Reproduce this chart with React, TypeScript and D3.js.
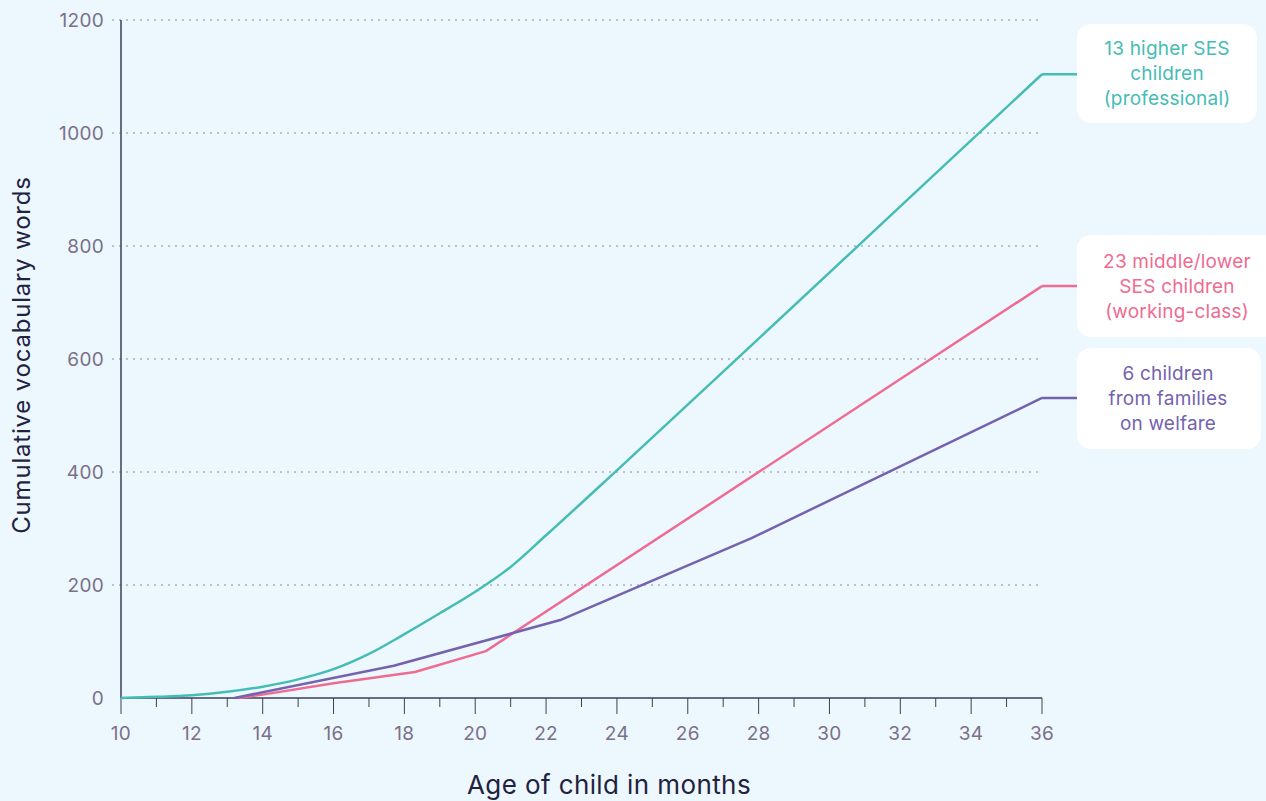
import React from "react";
import * as d3 from "d3";

const W = 1266;
const H = 801;

// Age (months) ticks and vocabulary ticks
const xTicks = [10, 12, 14, 16, 18, 20, 22, 24, 26, 28, 30, 32, 34, 36];
const xMinorTicks = [11, 13, 15, 17, 19, 21, 23, 25, 27, 29, 31, 33, 35];
const yTicks = [0, 200, 400, 600, 800, 1000, 1200];

// Cumulative vocabulary by age, one array per group
const higherAges = [10, 11, 12, 13, 14, 15, 16, 17, 18, 19, 20, 21, 22, 24, 28, 32, 36];
const higherWords = [0, 2, 5, 11, 20, 33, 51, 78, 113, 150, 188, 232, 288, 403, 636, 870, 1104];

const middleAges = [13.3, 14, 16, 18.3, 20.3, 36];
const middleWords = [0, 6, 26, 46, 83, 729];

const welfareAges = [13.2, 17.7, 22.4, 27.8, 36];
const welfareWords = [0, 57, 138, 283, 531];

const seriesColors = ["#45BDB4", "#EE6C91", "#7462AE"];
const seriesLabels = [
  ["13 higher SES", "children", "(professional)"],
  ["23 middle/lower", "SES children", "(working-class)"],
  ["6 children", "from families", "on welfare"],
];

const FONT = "Inter, 'Noto Sans', sans-serif";

export default function App() {
  const x = d3.scaleLinear().domain([10, 36]).range([121, 1042]);
  const y = d3.scaleLinear().domain([0, 1200]).range([698, 20]);

  const line = d3
    .line<[number, number]>()
    .x((d) => x(d[0]))
    .y((d) => y(d[1]));

  const smooth = d3
    .line<[number, number]>()
    .x((d) => x(d[0]))
    .y((d) => y(d[1]))
    .curve(d3.curveMonotoneX);

  const series = [
    { pts: higherAges.map((a, i) => [a, higherWords[i]] as [number, number]), gen: smooth },
    { pts: middleAges.map((a, i) => [a, middleWords[i]] as [number, number]), gen: line },
    { pts: welfareAges.map((a, i) => [a, welfareWords[i]] as [number, number]), gen: line },
  ];

  // Label boxes: left edge, top, width, height
  const boxes = [
    { x0: 1077, y0: 24, w: 180, h: 99, cx: 1167 },
    { x0: 1077, y0: 235, w: 200, h: 102, cx: 1177 },
    { x0: 1077, y0: 348, w: 184, h: 101, cx: 1168 },
  ];

  return (
    <svg
      width={W}
      height={H}
      style={{ position: "absolute", left: 0, top: 0, background: "#EDF7FE" }}
      fontFamily={FONT}
    >
      <rect x={0} y={0} width={W} height={H} fill="#EDF7FE" />

      {/* horizontal gridlines */}
      {yTicks.slice(1).map((t) => (
        <line
          key={"g" + t}
          x1={112}
          x2={1042}
          y1={y(t)}
          y2={y(t)}
          stroke="#8c8a99"
          strokeWidth={1}
          strokeDasharray="2,5"
        />
      ))}

      {/* y tick labels */}
      {yTicks.map((t) => (
        <text
          key={"yl" + t}
          x={104}
          y={y(t)}
          dy="0.35em"
          textAnchor="end"
          fontSize={19}
          letterSpacing={0.3}
          fill="#7a7088"
        >
          {t}
        </text>
      ))}

      {/* axes */}
      <line x1={121} x2={121} y1={20} y2={698} stroke="#3d3f5a" strokeWidth={1.5} />
      <line x1={121} x2={1042} y1={698} y2={698} stroke="#3d3f5a" strokeWidth={1.5} />
      {xTicks.map((t) => (
        <line key={"xt" + t} x1={x(t)} x2={x(t)} y1={698} y2={714} stroke="#3d3f5a" strokeWidth={1} />
      ))}
      {xMinorTicks.map((t) => (
        <line key={"xm" + t} x1={x(t)} x2={x(t)} y1={698} y2={707} stroke="#3d3f5a" strokeWidth={1} />
      ))}
      {xTicks.map((t) => (
        <text
          key={"xl" + t}
          x={x(t)}
          y={733}
          dy="0.35em"
          textAnchor="middle"
          fontSize={19}
          letterSpacing={0.3}
          fill="#7a7088"
        >
          {t}
        </text>
      ))}

      {/* data lines */}
      {series.map((s, i) => (
        <path
          key={"s" + i}
          d={s.gen(s.pts) || ""}
          fill="none"
          stroke={seriesColors[i]}
          strokeWidth={2.5}
          strokeLinejoin="round"
        />
      ))}

      {/* end labels */}
      {series.map((s, i) => {
        const last = s.pts[s.pts.length - 1];
        const b = boxes[i];
        const ly = y(last[1]);
        return (
          <g key={"lab" + i}>
            <line x1={x(last[0])} x2={b.x0} y1={ly} y2={ly} stroke={seriesColors[i]} strokeWidth={2.5} />
            <rect x={b.x0} y={b.y0} width={b.w} height={b.h} rx={14} fill="#ffffff" />
            {seriesLabels[i].map((t, j) => (
              <text
                key={j}
                x={b.cx}
                y={b.y0 + b.h / 2 + (j - 1) * 25}
                dy="0.35em"
                textAnchor="middle"
                fontSize={19}
                letterSpacing={0.2}
                fill={seriesColors[i]}
              >
                {t}
              </text>
            ))}
          </g>
        );
      })}

      {/* axis titles */}
      <text
        transform={`translate(22,355) rotate(-90)`}
        dy="0.35em"
        textAnchor="middle"
        fontSize={24}
        letterSpacing={0.8}
        fill="#1f2340"
      >
        Cumulative vocabulary words
      </text>
      <text
        x={609}
        y={785}
        dy="0.35em"
        textAnchor="middle"
        fontSize={26}
        letterSpacing={0.4}
        fill="#1f2340"
      >
        Age of child in months
      </text>
    </svg>
  );
}
